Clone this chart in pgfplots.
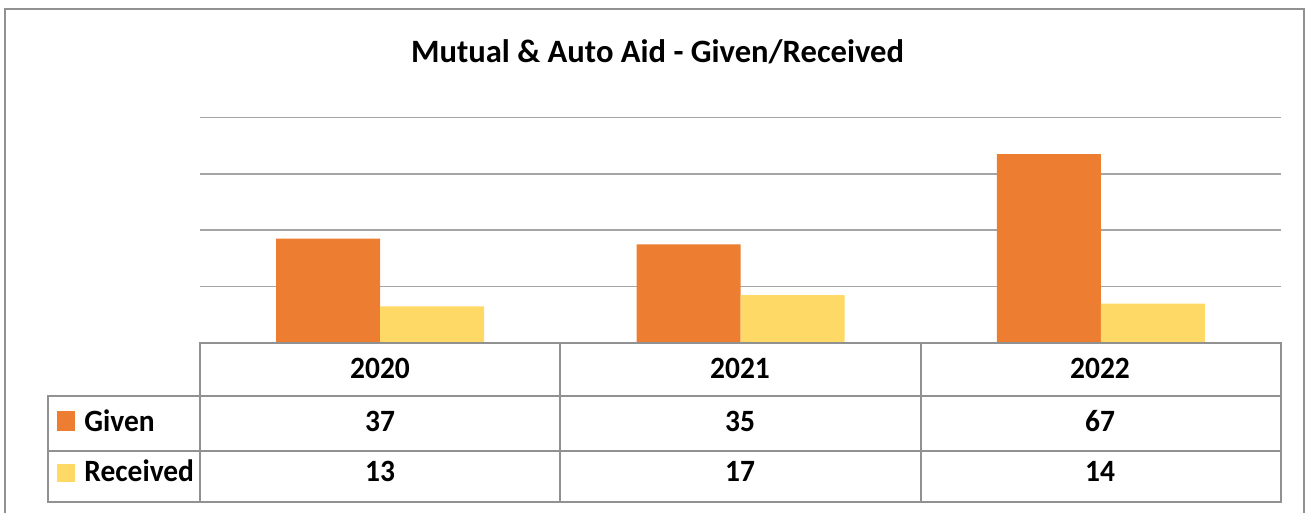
\documentclass[border=0pt]{standalone}
\usepackage{pgfplots}
\pgfplotsset{compat=1.18}
\usepackage{fontspec}
\setmainfont{Carlito}
\newfontfamily\tablefont[FakeStretch=0.95]{Carlito}
\definecolor{given}{RGB}{237,125,49}
\definecolor{received}{RGB}{255,217,102}
\definecolor{gridgray}{RGB}{165,165,165}
\definecolor{linegray}{RGB}{145,145,145}

\begin{document}
\begin{tikzpicture}[x=0.5pt,y=0.5pt]
\useasboundingbox (0,0) rectangle (1311,513);
% outer frame
\draw[linegray, line width=1pt] (4.5,-5) -- (4.5,504) -- (1303.5,504) -- (1303.5,-5);
% title
\node[anchor=base, font=\fontsize{16.3}{19}\selectfont\bfseries] at (657.5,450)
  {Mutual \& Auto Aid - Given/Received};

\begin{axis}[
  at={(100pt,85pt)}, anchor=south west,
  scale only axis, width=540.5pt, height=112.8pt,
  xmin=-0.5, xmax=2.5, ymin=0, ymax=80,
  ybar=0pt, bar width=52pt,
  ytick={20,40,60,80}, ymajorgrids,
  grid style={gridgray, line width=0.8pt},
  xtick=\empty, yticklabels={}, major tick length=0pt,
  axis line style={draw=none},
  clip=false,
]
\addplot[fill=given, draw=none] coordinates {(0,37) (1,35) (2,67)};
\addplot[fill=received, draw=none] coordinates {(0,13) (1,17) (2,14)};
\end{axis}

% data table
\begin{scope}[linegray, line width=1pt]
  \draw (200,170) rectangle (1281,11);
  \draw (48,117) rectangle (200,11);
  \draw (48,117) -- (1281,117);
  \draw (48,62) -- (1281,62);
  \draw (560.3,170) -- (560.3,11);
  \draw (920.7,170) -- (920.7,11);
\end{scope}
\fill[given] (57,102) rectangle (75,82);
\fill[received] (57,49) rectangle (75,31);
\begin{scope}[font=\tablefont\fontsize{15.5}{18}\selectfont\bfseries]
  \node[anchor=base] at (380,134) {2020};
  \node[anchor=base] at (740,134) {2021};
  \node[anchor=base] at (1100,134) {2022};
  \node[anchor=base west, inner sep=0pt] at (84,81) {Given};
  \node[anchor=base west, inner sep=0pt] at (84,31) {Received};
  \node[anchor=base] at (380,81) {37};
  \node[anchor=base] at (740,81) {35};
  \node[anchor=base] at (1100,81) {67};
  \node[anchor=base] at (380,31) {13};
  \node[anchor=base] at (740,31) {17};
  \node[anchor=base] at (1100,31) {14};
\end{scope}
\end{tikzpicture}
\end{document}
